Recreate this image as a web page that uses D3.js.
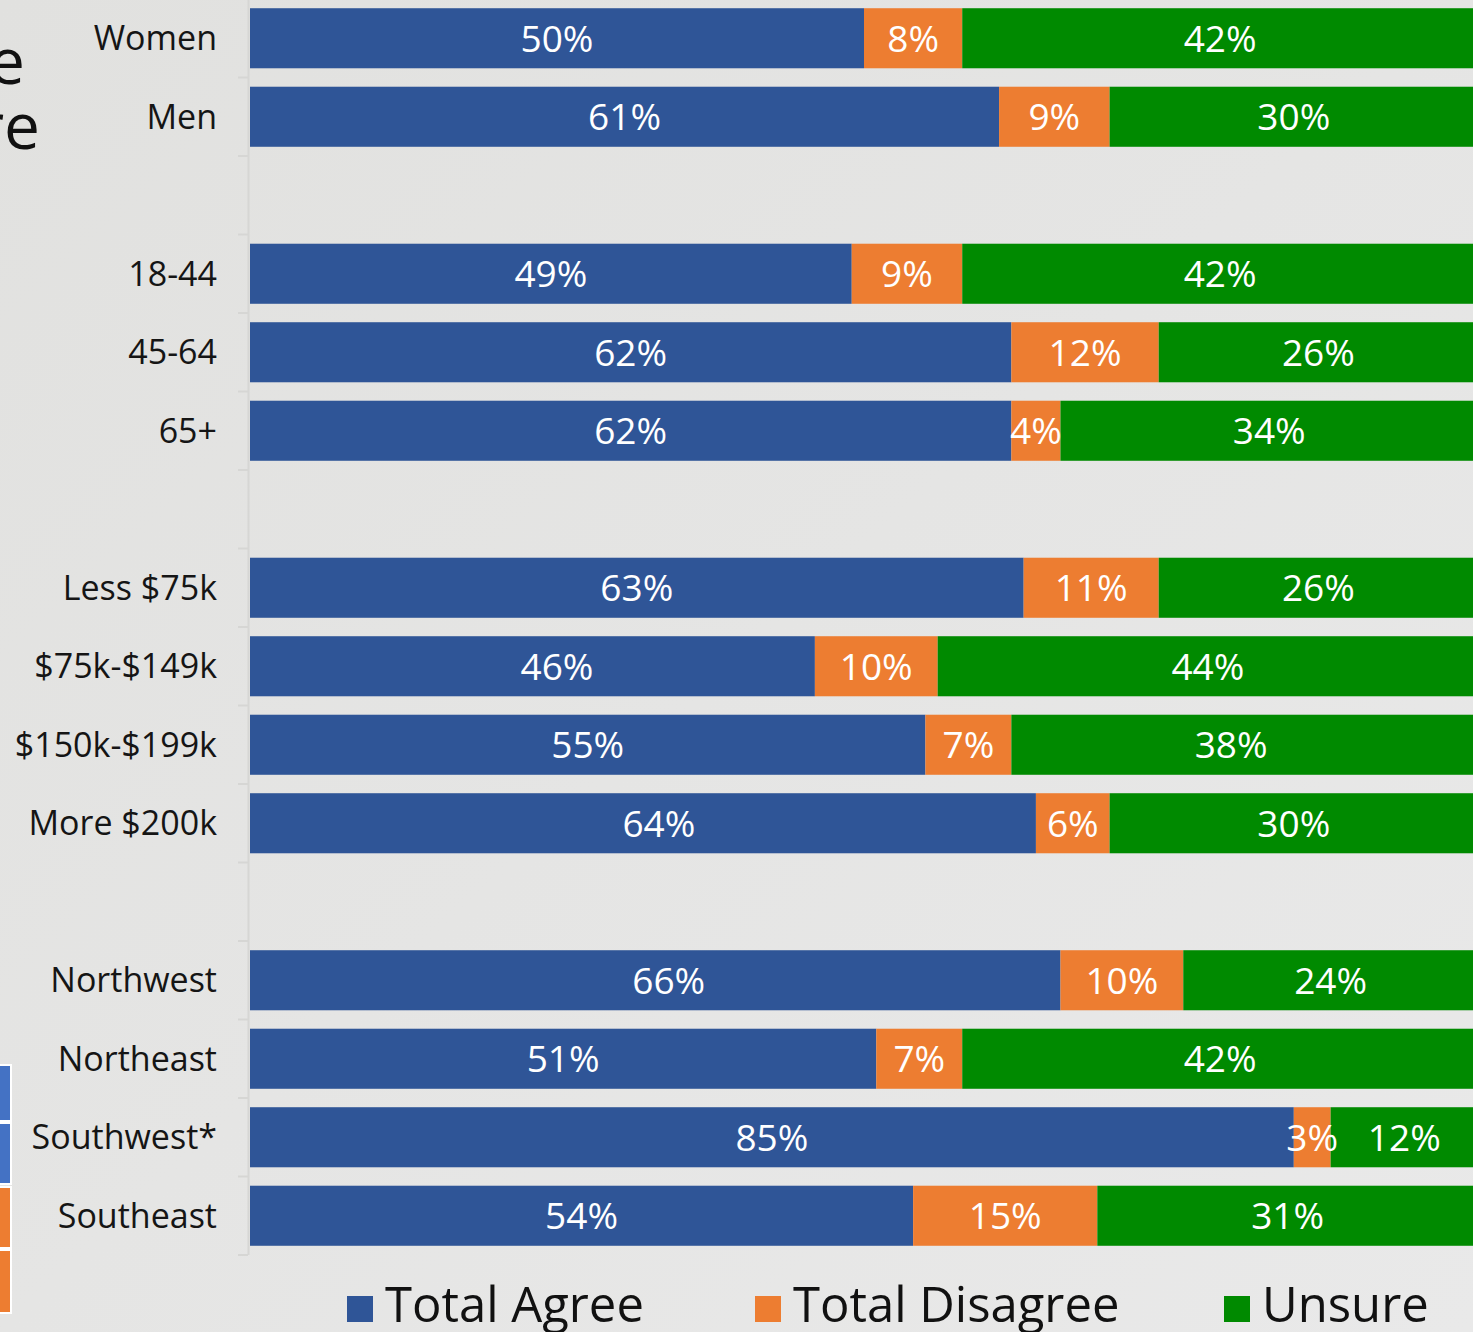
<!DOCTYPE html>
<html>
<head>
<meta charset="utf-8">
<script src="https://cdn.jsdelivr.net/npm/d3@7"></script>
<style>
  html, body { margin: 0; padding: 0; background: #e5e5e3; }
  svg { display: block; }
  text { font-family: "Open Sans", "DejaVu Sans", sans-serif; }
</style>
</head>
<body>
<svg id="chart" width="1473" height="1332"></svg>
<script>
// ---- data ----
const categories = ["Women", "Men", "gap1", "18-44", "45-64", "65+", "gap2",
  "Less $75k", "$75k-$149k", "$150k-$199k", "More $200k", "gap3",
  "Northwest", "Northeast", "Southwest*", "Southeast"];
const agree    = [50, 61, null, 49, 62, 62, null, 63, 46, 55, 64, null, 66, 51, 85, 54];
const disagree = [ 8,  9, null,  9, 12,  4, null, 11, 10,  7,  6, null, 10,  7,  3, 15];
const unsure   = [42, 30, null, 42, 26, 34, null, 26, 44, 38, 30, null, 24, 42, 12, 31];
const seriesNames = ["Total Agree", "Total Disagree", "Unsure"];
const seriesKeys = ["agree", "disagree", "unsure"];
const xTicks = [0, 100];
const titleFragments = ["e", "re"];

// a few data labels in the original were dragged off-centre (in percentage points)
const labelNudge = {
  "$75k-$149k|agree": 2.0,
  "More $200k|agree": 1.3,
  "Northwest|agree": 1.1,
  "$150k-$199k|unsure": -1.1
};

const colors = { agree: "#2f5597", disagree: "#ed7d31", unsure: "#008a00" };

const W = 1473, H = 1332;
const svg = d3.select("#chart");

// background
const defs = svg.append("defs");
const grad = defs.append("linearGradient").attr("id", "bg")
  .attr("x1", "0").attr("y1", "0").attr("x2", "1").attr("y2", "1");
grad.append("stop").attr("offset", "0").attr("stop-color", "#e1e1df");
grad.append("stop").attr("offset", "1").attr("stop-color", "#e9e9e9");
svg.append("rect").attr("width", W).attr("height", H).attr("fill", "url(#bg)");

// cut-off fragments on the left edge
svg.append("text").attr("x", 25).attr("y", 84).attr("text-anchor", "end")
  .attr("font-size", 64).attr("fill", "#111").text(titleFragments[0]);
svg.append("text").attr("x", 40).attr("y", 149).attr("text-anchor", "end")
  .attr("font-size", 64).attr("fill", "#111").text(titleFragments[1]);

const leftRects = [
  { y: 1065, h: 56, c: "#4472c4" },
  { y: 1123, h: 61, c: "#4472c4" },
  { y: 1187, h: 61, c: "#ed7d31" },
  { y: 1250, h: 63, c: "#ed7d31" }
];
svg.selectAll("rect.frag").data(leftRects).join("rect").attr("class", "frag")
  .attr("x", -2).attr("y", d => d.y).attr("width", 13).attr("height", d => d.h)
  .attr("fill", d => d.c).attr("stroke", "#ffffff").attr("stroke-width", 2);

// scales
const x = d3.scaleLinear().domain(xTicks).range([250, 1478]);
const y = d3.scaleBand().domain(categories).range([-1, 1255])
  .paddingInner(0.235).paddingOuter(0.1175);

const rows = categories.map((c, i) => ({
  cat: c, agree: agree[i], disagree: disagree[i], unsure: unsure[i]
})).filter(r => r.agree !== null);

const stack = d3.stack().keys(seriesKeys);
const stacked = stack(rows);

// axis line + ticks
const step = y.step();
const axisG = svg.append("g");
axisG.append("line").attr("x1", 248.5).attr("x2", 248.5).attr("y1", -1).attr("y2", 1255)
  .attr("stroke", "#d6d6d4").attr("stroke-width", 2);
const boundaries = d3.range(categories.length + 1).map(i => -1 + i * step);
axisG.selectAll("line.tick").data(boundaries.slice(1)).join("line").attr("class", "tick")
  .attr("x1", 238).attr("x2", 248).attr("y1", d => d).attr("y2", d => d)
  .attr("stroke", "#d6d6d4").attr("stroke-width", 2);

// bars
const layers = svg.append("g").selectAll("g").data(stacked).join("g")
  .attr("fill", d => colors[d.key]);
layers.selectAll("rect").data(d => d).join("rect")
  .attr("x", d => x(d[0]))
  .attr("width", d => x(d[1]) - x(d[0]))
  .attr("y", d => y(d.data.cat))
  .attr("height", y.bandwidth());

// value labels
const lab = svg.append("g");
stacked.forEach(layer => {
  lab.selectAll(null).data(layer).join("text")
    .attr("x", d => x((d[0] + d[1]) / 2 + (labelNudge[d.data.cat + "|" + layer.key] || 0)))
    .attr("y", d => y(d.data.cat) + y.bandwidth() / 2)
    .attr("dy", "0.36em")
    .attr("text-anchor", "middle")
    .attr("font-size", 37)
    .attr("fill", "#ffffff")
    .text(d => d.data[layer.key] + "%");
});

// category labels
svg.append("g").selectAll("text").data(rows).join("text")
  .attr("x", 217)
  .attr("y", d => y(d.cat) + y.bandwidth() / 2)
  .attr("dy", "0.36em")
  .attr("text-anchor", "end")
  .attr("font-size", 34)
  .attr("fill", "#151515")
  .text(d => d.cat);

// legend
const legendX = [347, 755, 1224];
const lg = svg.append("g").selectAll("g").data(seriesKeys).join("g")
  .attr("transform", (d, i) => `translate(${legendX[i]},0)`);
lg.append("rect").attr("x", 0).attr("y", 1296).attr("width", 26).attr("height", 26)
  .attr("fill", d => colors[d]);
lg.append("text").attr("x", 38).attr("y", 1322).attr("font-size", 49)
  .attr("fill", "#111")
  .text((d, i) => seriesNames[i]);
</script>
</body>
</html>
